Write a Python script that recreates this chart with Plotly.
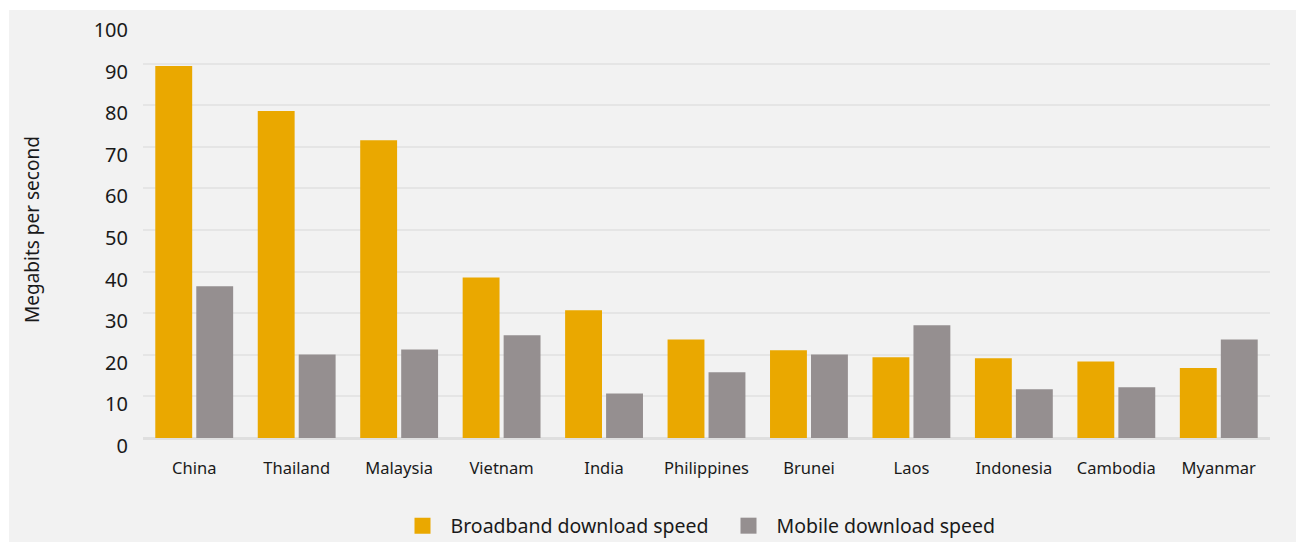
import plotly.graph_objects as go

# Download speeds (Mbps) by country
countries = ["China", "Thailand", "Malaysia", "Vietnam", "India", "Philippines",
             "Brunei", "Laos", "Indonesia", "Cambodia", "Myanmar"]
broadband = [89.4, 78.6, 71.6, 38.6, 30.7, 23.7, 21.1, 19.4, 19.2, 18.4, 16.8]
mobile = [36.5, 20.1, 21.3, 24.7, 10.7, 15.8, 20.1, 27.1, 11.7, 12.2, 23.7]
y_ticks = [0, 10, 20, 30, 40, 50, 60, 70, 80, 90, 100]

ORANGE = "#EAA800"
GREY = "#958F90"
PANEL = "#F2F2F2"
FONT = "Noto Sans"

W, H = 1296, 542
ML, MR, MT, MB = 143, 26, 22, 104
pw, ph = W - ML - MR, H - MT - MB

fig = go.Figure()
fig.add_trace(go.Bar(x=countries, y=broadband, marker_color=ORANGE, marker_line_width=0,
                     name="Broadband download speed", showlegend=False))
fig.add_trace(go.Bar(x=countries, y=mobile, marker_color=GREY, marker_line_width=0,
                     name="Mobile download speed", showlegend=False))

# legend entries with larger square swatches
for nm, col in [("Broadband download speed", ORANGE), ("Mobile download speed", GREY)]:
    fig.add_trace(go.Scatter(x=[None], y=[None], mode="markers", name=nm,
                             marker=dict(symbol="square", size=18, color=col)))

# grey panel behind the chart, leaving a thin white border at top and left
fig.add_shape(type="rect", xref="paper", yref="paper", layer="below",
              x0=(9 - ML) / pw, x1=(W - ML + 5) / pw,
              y0=-(MB + 5) / ph, y1=(H - 10 - MB) / ph,
              fillcolor=PANEL, line_width=0)

fig.add_annotation(text="Megabits per second", textangle=-90, showarrow=False,
                   xref="paper", yref="paper", x=(32 - ML) / pw, y=0.5,
                   xanchor="center", yanchor="middle",
                   font=dict(family=FONT, size=19, color="#1a1a1a"))

fig.update_layout(
    width=W, height=H,
    margin=dict(l=ML, r=MR, t=MT, b=MB, autoexpand=False),
    paper_bgcolor="white", plot_bgcolor="rgba(0,0,0,0)",
    barmode="group", bargap=0.2, bargroupgap=0.1,
    font=dict(family=FONT, color="#1a1a1a"),
    legend=dict(orientation="h", x=0.5 + 14 / pw, xanchor="center", y=-(MB - 16) / ph,
                yanchor="middle", font=dict(family=FONT, size=19.5, color="#1a1a1a"),
                bgcolor="rgba(0,0,0,0)", itemwidth=46, traceorder="normal",
                entrywidth=265),
    xaxis=dict(showgrid=False, showline=False, ticks="", tickfont=dict(size=16.5),
               ticklabelstandoff=18),
    yaxis=dict(range=[0, 100], tickvals=y_ticks, showgrid=True, gridcolor="#E5E5E5",
               gridwidth=1.5, zeroline=True, zerolinecolor="#DFDFDF", zerolinewidth=2.5,
               showline=False, ticks="", tickfont=dict(size=20),
               ticklabelshift=8, ticklabelstandoff=14),
)

fig.write_html("out.html")
